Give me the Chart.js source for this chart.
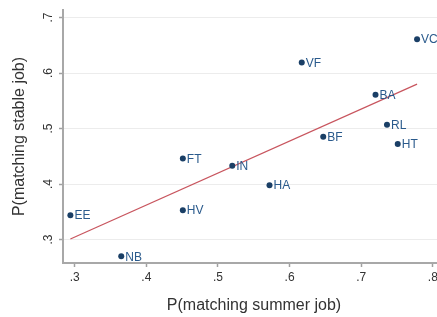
<!DOCTYPE html>
<html>
<head>
<meta charset="utf-8">
<script src="https://cdn.jsdelivr.net/npm/chart.js@4"></script>
<style>
  html, body { margin: 0; padding: 0; background: #fff; overflow: hidden; }
  #wrap { width: 450px; height: 317px; }
</style>
</head>
<body>
<div id="wrap"><canvas id="scatter"></canvas></div>
<script>
// points
const codes   = ['VC', 'VF', 'BA', 'RL', 'BF', 'HT', 'FT', 'IN', 'HA', 'EE', 'HV', 'NB'];
const summerX = [0.778, 0.617, 0.720, 0.736, 0.647, 0.751, 0.451, 0.520, 0.572, 0.294, 0.451, 0.365];
const stableY = [0.661, 0.619, 0.561, 0.507, 0.485, 0.472, 0.446, 0.433, 0.398, 0.344, 0.353, 0.270];

// fitted line
const fitX = [0.294, 0.778];
const fitY = [0.301, 0.580];

const xTicks = [0.3, 0.4, 0.5, 0.6, 0.7, 0.8];
const yTicks = [0.3, 0.4, 0.5, 0.6, 0.7];

const navy = '#1a3f66';
const labelBlue = '#2a5a8c';
const FONT = '"Liberation Sans", Arial, sans-serif';

const fmt = v => ('' + Math.round(v * 10) / 10).replace(/^0/, '');

// labels next to markers + vertical y tick labels
const stataText = {
  id: 'stataText',
  afterDatasetsDraw(chart) {
    const ctx = chart.ctx;
    const meta = chart.getDatasetMeta(0);
    ctx.save();
    ctx.font = '12px ' + FONT;
    ctx.fillStyle = labelBlue;
    ctx.textBaseline = 'middle';
    ctx.textAlign = 'left';
    meta.data.forEach((pt, i) => {
      ctx.fillText(codes[i], pt.x + 4, pt.y + 1);
    });
    ctx.restore();
  },
  afterDraw(chart) {
    const ctx = chart.ctx;
    const ys = chart.scales.y;
    ctx.save();
    ctx.font = '12px ' + FONT;
    ctx.fillStyle = '#333';
    ctx.textAlign = 'center';
    ctx.textBaseline = 'middle';
    yTicks.forEach(v => {
      const py = ys.getPixelForValue(v);
      ctx.save();
      ctx.translate(49, py);
      ctx.rotate(-Math.PI / 2);
      ctx.fillText(fmt(v), 0, 0);
      ctx.restore();
    });
    ctx.restore();
  }
};

new Chart(document.getElementById('scatter'), {
  type: 'scatter',
  data: {
    datasets: [
      {
        data: summerX.map((x, i) => ({x: x, y: stableY[i]})),
        backgroundColor: navy,
        borderColor: navy,
        pointRadius: 3,
        pointBorderWidth: 0
      },
      {
        type: 'line',
        data: fitX.map((x, i) => ({x: x, y: fitY[i]})),
        borderColor: '#c8555e',
        borderWidth: 1.2,
        pointRadius: 0,
        fill: false
      }
    ]
  },
  plugins: [stataText],
  options: {
    responsive: true,
    maintainAspectRatio: false,
    animation: false,
    layout: { padding: { top: 10, right: 5, left: 0, bottom: 0 } },
    plugins: { legend: { display: false }, tooltip: { enabled: false } },
    scales: {
      x: {
        type: 'linear',
        min: 0.2837,
        max: 0.817,
        afterBuildTicks: s => { s.ticks = xTicks.map(v => ({value: v})); },
        afterFit: s => { s.height = 54; },
        ticks: {
          callback: v => fmt(v),
          color: '#333',
          font: { family: FONT, size: 12 },
          padding: 3,
          maxRotation: 0
        },
        grid: { drawOnChartArea: false, drawTicks: true, tickLength: 4, tickColor: '#a0a0a0', tickWidth: 1.5 },
        border: { color: '#a8a8a8', width: 2 },
        title: {
          display: true,
          text: 'P(matching summer job)',
          color: '#333',
          font: { family: FONT, size: 16 },
          padding: { top: 0, bottom: 2 }
        }
      },
      y: {
        type: 'linear',
        min: 0.2578,
        max: 0.7135,
        afterBuildTicks: s => { s.ticks = yTicks.map(v => ({value: v})); },
        afterFit: s => { s.width = 63; },
        ticks: { display: false },
        grid: { color: '#ececec', lineWidth: 1, drawTicks: true, tickLength: 4, tickColor: '#a0a0a0', tickWidth: 1.5 },
        border: { color: '#a8a8a8', width: 2 },
        title: {
          display: true,
          text: 'P(matching stable job)',
          color: '#333',
          font: { family: FONT, size: 16 },
          padding: { top: 10, bottom: 0 }
        }
      }
    }
  }
});
</script>
</body>
</html>
